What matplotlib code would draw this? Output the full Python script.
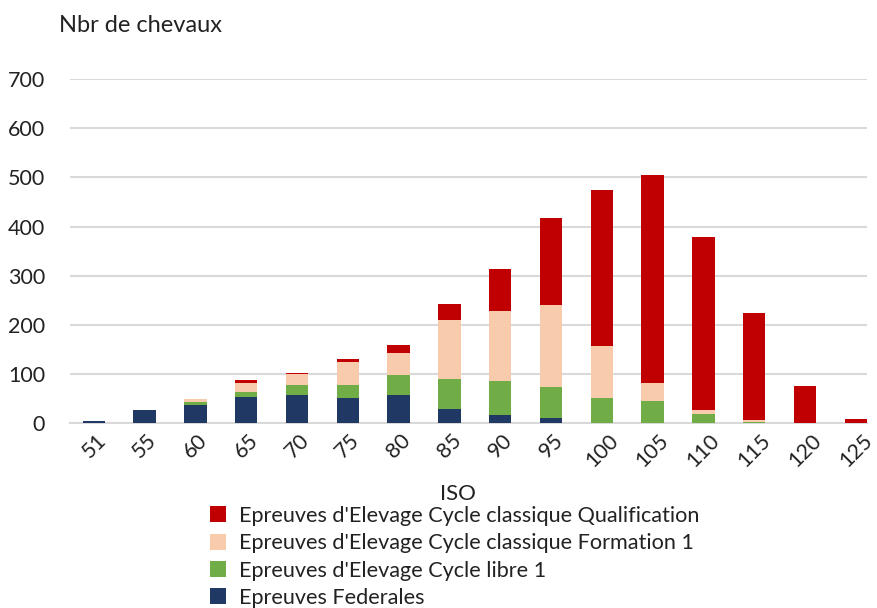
import numpy as np
import matplotlib.pyplot as plt

plt.rcParams['font.family'] = ['Lato', 'DejaVu Sans']

# ISO categories
iso = ['51', '55', '60', '65', '70', '75', '80', '85', '90', '95',
       '100', '105', '110', '115', '120', '125']

# number of horses per series (stacked from bottom to top)
federales = [5, 26, 37, 53, 58, 52, 58, 29, 16, 10, 0, 0, 0, 0, 0, 0]
libre = [0, 0, 7, 10, 19, 25, 40, 61, 69, 63, 51, 45, 18, 2, 0, 0]
formation = [0, 0, 6, 19, 24, 47, 44, 119, 143, 168, 105, 36, 8, 4, 0, 0]
qualif = [0, 0, 0, 5, 2, 7, 18, 33, 86, 176, 318, 424, 353, 219, 75, 8]

noms = ["Epreuves Federales",
        "Epreuves d'Elevage Cycle libre 1",
        "Epreuves d'Elevage Cycle classique Formation 1",
        "Epreuves d'Elevage Cycle classique Qualification"]
couleurs = ['#203864', '#70AD47', '#F8CBAD', '#C00000']

fig = plt.figure(figsize=(8.77, 6.08), dpi=100)
ax = fig.add_axes([0.0798, 0.304, 0.9088, 0.566])

x = np.arange(len(iso))
bas = np.zeros(len(iso))
barres = []
for vals, nom, c in zip([federales, libre, formation, qualif], noms, couleurs):
    b = ax.bar(x, vals, width=0.44, bottom=bas, color=c, label=nom, zorder=3)
    barres.append(b)
    bas += np.array(vals)

ax.set_ylim(0, 700)
ax.set_xlim(-0.47, 15.22)
ax.set_yticks(range(0, 701, 100))
ax.set_xticks(x)
ax.set_xticklabels(iso, rotation=45, ha='center', va='top', fontsize=15.5, color='#222222')
ax.tick_params(axis='y', labelsize=15.5, labelcolor='#222222', length=0, pad=18)
ax.tick_params(axis='x', length=0, pad=5)
ax.grid(axis='y', color='#D9D9D9', linewidth=1.5, zorder=0)
for s in ['top', 'right', 'left']:
    ax.spines[s].set_visible(False)
ax.spines['bottom'].set_color('#D9D9D9')
ax.spines['bottom'].set_linewidth(1.5)

fig.text(0.067, 0.958, 'Nbr de chevaux', fontsize=17, color='#222222', va='center')
fig.text(0.522, 0.188, 'ISO', fontsize=16, color='#222222', ha='center', va='center')

leg = fig.legend(barres[::-1], noms[::-1], loc='upper left', bbox_to_anchor=(0.2395, 0.168),
                 frameon=False, fontsize=15.6, handlelength=0.75, handleheight=0.75,
                 handletextpad=0.6, labelspacing=0.34, borderpad=0, borderaxespad=0)
for t in leg.get_texts():
    t.set_color('#222222')

fig.savefig('out.png', dpi=100)
